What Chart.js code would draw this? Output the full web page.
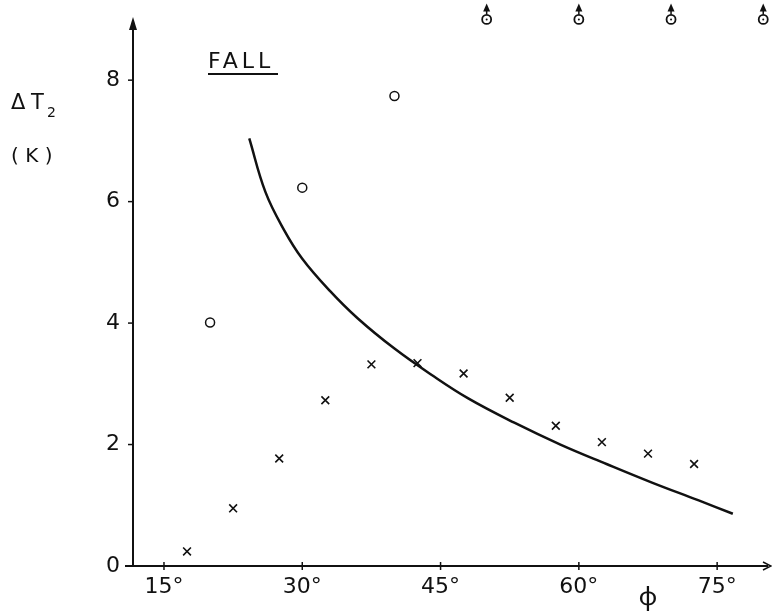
<!DOCTYPE html>
<html>
<head>
<meta charset="utf-8">
<script src="https://cdn.jsdelivr.net/npm/chart.js@4/dist/chart.umd.min.js"></script>
<style>
  html, body { margin: 0; padding: 0; background: #fff; }
  canvas { display: block; }
</style>
</head>
<body>
<canvas id="fallChart" width="772" height="611"></canvas>
<script>
// values (phi in degrees, delta T2 in K)
const crossAngles = [17.5, 22.5, 27.5, 32.5, 37.5, 42.5, 47.5, 52.5, 57.5, 62.5, 67.5, 72.5];
const crossValues = [0.24, 0.95, 1.77, 2.73, 3.32, 3.34, 3.17, 2.77, 2.31, 2.04, 1.85, 1.68];
const circleAngles = [20, 30, 40];
const circleValues = [4.01, 6.23, 7.74];
// off-scale points, drawn at the top with an arrow
const offAngles = [50, 60, 70, 80];
const offValues = [9.0, 9.0, 9.0, 9.0];
const curveAngles = [24.25, 26, 28, 30, 33, 36, 40, 44, 48, 53, 58, 63, 68, 73, 76.7];
const curveValues = [7.04, 6.16, 5.54, 5.06, 4.53, 4.08, 3.58, 3.15, 2.76, 2.36, 2.00, 1.68, 1.37, 1.08, 0.86];
const xTickValues = [15, 30, 45, 60, 75];
const yTickValues = [0, 2, 4, 6, 8];

const ink = '#111';
const font = '"DejaVu Sans", "Noto Sans", sans-serif';

const toPoints = (xs, ys) => xs.map((x, i) => ({ x: x, y: ys[i] }));

// no extra room for edge labels: the plot fills the canvas like the drawing
const noPadding = s => {
    s.paddingTop = 0;
    s.paddingBottom = 0;
    s.paddingLeft = 0;
    s.paddingRight = 0;
};

// axes with arrow heads, tick marks and the hand-lettered texts
const drawingPlugin = {
    id: 'drawing',
    afterDatasetsDraw(chart) {
        const c = chart.ctx;
        const area = chart.chartArea;
        const xs = chart.scales.x;
        const ys = chart.scales.y;
        const y0 = ys.getPixelForValue(0);
        c.save();
        c.strokeStyle = ink;
        c.fillStyle = ink;
        c.lineWidth = 2;

        // y axis
        c.beginPath();
        c.moveTo(area.left, y0);
        c.lineTo(area.left, 22);
        c.stroke();
        c.beginPath();
        c.moveTo(area.left, 17);
        c.lineTo(area.left - 4, 30);
        c.lineTo(area.left + 4, 30);
        c.closePath();
        c.fill();

        // x axis
        c.beginPath();
        c.moveTo(area.left - 8, y0);
        c.lineTo(area.right - 4, y0);
        c.stroke();
        c.lineWidth = 1.5;
        c.beginPath();
        c.moveTo(area.right - 9, y0 - 4);
        c.lineTo(area.right - 1, y0);
        c.lineTo(area.right - 9, y0 + 4);
        c.stroke();

        c.lineWidth = 1.5;
        yTickValues.forEach(v => {
            const p = ys.getPixelForValue(v);
            c.beginPath();
            c.moveTo(area.left - 5, p);
            c.lineTo(area.left, p);
            c.stroke();
        });
        xTickValues.forEach(v => {
            const p = xs.getPixelForValue(v);
            c.beginPath();
            c.moveTo(p, y0 - 4);
            c.lineTo(p, y0 + 4);
            c.stroke();
        });

        // arrows over the off-scale points
        const meta = chart.getDatasetMeta(2);
        c.lineWidth = 1.5;
        meta.data.forEach(pt => {
            c.beginPath();
            c.moveTo(pt.x, pt.y - 5);
            c.lineTo(pt.x, pt.y - 10);
            c.stroke();
            c.beginPath();
            c.moveTo(pt.x, pt.y - 16);
            c.lineTo(pt.x - 3.5, pt.y - 8);
            c.lineTo(pt.x + 3.5, pt.y - 8);
            c.closePath();
            c.fill();
        });

        // labels
        c.textBaseline = 'alphabetic';
        c.textAlign = 'left';
        c.font = '21px ' + font;
        c.fillText('\u0394', 11, 109);
        c.fillText('T', 31, 109);
        c.font = '14px ' + font;
        c.fillText('2', 47, 117);
        c.font = '20px ' + font;
        c.fillText('( K )', 11, 162);

        c.font = '22px ' + font;
        c.letterSpacing = '4px';
        c.fillText('FALL', 208, 68);
        c.letterSpacing = '0px';
        c.lineWidth = 2;
        c.beginPath();
        c.moveTo(208, 74);
        c.lineTo(278, 74);
        c.stroke();

        c.font = '26px "Noto Sans", sans-serif';
        c.textAlign = 'center';
        c.fillText('\u03D5', 648, 605);
        c.restore();
    }
};

new Chart(document.getElementById('fallChart'), {
    type: 'scatter',
    data: {
        datasets: [
            {
                label: 'x',
                data: toPoints(crossAngles, crossValues),
                pointStyle: 'crossRot',
                pointRadius: 5.5,
                borderColor: ink,
                borderWidth: 1.6
            },
            {
                label: 'o',
                data: toPoints(circleAngles, circleValues),
                pointStyle: 'circle',
                pointRadius: 4.5,
                backgroundColor: 'rgba(0,0,0,0)',
                borderColor: ink,
                borderWidth: 1.5
            },
            {
                label: 'off scale',
                data: toPoints(offAngles, offValues),
                pointStyle: 'circle',
                pointRadius: 4.5,
                backgroundColor: 'rgba(0,0,0,0)',
                borderColor: ink,
                borderWidth: 1.8,
                clip: false
            },
            {
                label: 'off scale centre',
                data: toPoints(offAngles, offValues),
                pointStyle: 'circle',
                pointRadius: 1,
                backgroundColor: ink,
                borderColor: ink,
                borderWidth: 0,
                clip: false
            },
            {
                label: 'curve',
                type: 'line',
                data: toPoints(curveAngles, curveValues),
                borderColor: ink,
                borderWidth: 2.5,
                pointRadius: 0,
                fill: false,
                tension: 0.4
            }
        ]
    },
    options: {
        responsive: false,
        devicePixelRatio: 1,
        animation: false,
        layout: { padding: 0, autoPadding: false },
        plugins: {
            legend: { display: false },
            tooltip: { enabled: false }
        },
        scales: {
            x: {
                type: 'linear',
                min: 11.64,
                max: 80.95,
                grid: { display: false, drawTicks: false },
                border: { display: false },
                afterFit: s => { s.height = 45; noPadding(s); },
                afterBuildTicks: s => { s.ticks = xTickValues.map(v => ({ value: v })); },
                ticks: {
                    color: ink,
                    padding: 8,
                    maxRotation: 0,
                    font: { family: font, size: 22 },
                    callback: v => v + '\u00B0'
                }
            },
            y: {
                type: 'linear',
                min: 0,
                max: 9.32,
                grid: { display: false, drawTicks: false },
                border: { display: false },
                afterFit: s => { s.width = 133; noPadding(s); },
                afterBuildTicks: s => { s.ticks = yTickValues.map(v => ({ value: v })); },
                ticks: {
                    color: ink,
                    padding: 13,
                    font: { family: font, size: 22 }
                }
            }
        }
    },
    plugins: [drawingPlugin]
});
</script>
</body>
</html>
